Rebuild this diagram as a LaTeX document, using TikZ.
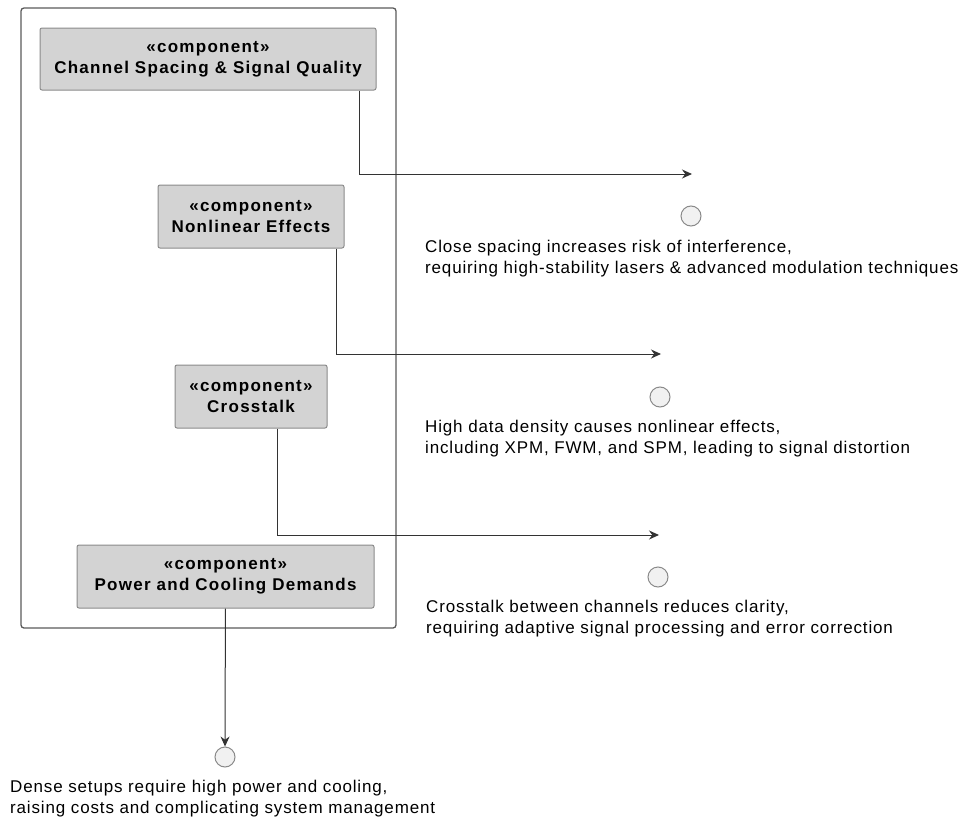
\documentclass[tikz,border=0pt]{standalone}
\usepackage{fontspec}
\setmainfont{Liberation Sans}
\newfontfamily\notefont[LetterSpace=5]{Liberation Sans}
\newfontfamily\compfont[LetterSpace=7.5]{Liberation Sans}
\usetikzlibrary{
  positioning,
  calc,
  arrows.meta
}
\definecolor{boxfill}{HTML}{D3D3D3}
\definecolor{boxline}{HTML}{8A8A8A}
\definecolor{pkgline}{HTML}{5A5A5A}
\definecolor{ifill}{HTML}{F1F1F1}

\begin{document}
\begin{tikzpicture}[x=1pt, y=-1pt,
    comp/.style={draw=boxline, fill=boxfill, line width=1pt, rounded corners=2pt, align=center,
      inner sep=0pt, font=\compfont\bfseries\fontsize{17}{21}\selectfont},
    iface/.style={circle, draw=boxline, fill=ifill, line width=1pt, minimum size=20pt, inner sep=0pt},
    note/.style={anchor=north west, align=left, inner sep=0pt,
      font=\notefont\fontsize{17}{21}\selectfont},
    link/.style={draw=black!80, line width=1pt, -{Stealth[length=10pt, width=9pt]}}
  ]
      \useasboundingbox (0,0) rectangle (962,819);

      % Package frame
      \draw[pkgline, line width=1.3pt, rounded corners=3pt] (21,8) rectangle (396,628);

      % Components
      \node[comp, minimum width=336pt, minimum height=62pt] (spacing) at (208,59)
        {«component»\\Channel Spacing \& Signal Quality};
      \node[comp, minimum width=186pt, minimum height=63pt] (nonlinear) at (251,216.5)
        {«component»\\Nonlinear Effects};
      \node[comp, minimum width=152pt, minimum height=63pt] (crosstalk) at (251,396.5)
        {«component»\\Crosstalk};
      \node[comp, minimum width=297pt, minimum height=63pt] (power) at (225.5,576.5)
        {«component»\\Power and Cooling Demands};

      % Interfaces
      \node[iface] (ispacing) at (691,216) {};
      \node[iface] (inonlinear) at (660,397) {};
      \node[iface] (icrosstalk) at (658,577) {};
      \node[iface] (ipower) at (225,757) {};

      % Arrow ends
      \coordinate (espacing) at (692,174);
      \coordinate (enonlinear) at (661,354);
      \coordinate (ecrosstalk) at (659,535);

      % Notes
      \node[note] (nspacing) at (425,239.5)
        {Close spacing increases risk of interference,\\requiring high-stability lasers \& advanced modulation techniques};
      \node[note] (nnonlinear) at (425,419.5)
        {High data density causes nonlinear effects,\\including XPM, FWM, and SPM, leading to signal distortion};
      \node[note] (ncrosstalk) at (426,600)
        {Crosstalk between channels reduces clarity,\\requiring adaptive signal processing and error correction};
      \node[note] (npower) at (10,780)
        {Dense setups require high power and cooling,\\raising costs and complicating system management};

      % Connectors
      \draw[link] ([xshift=-17pt]spacing.south east) |- (espacing);
      \draw[link] ([xshift=-8pt]nonlinear.south east) |- (enonlinear);
      \draw[link] ([xshift=-50pt]crosstalk.south east) |- (ecrosstalk);
      \draw[link] (power) -- (ipower);
    \end{tikzpicture}
\end{document}
